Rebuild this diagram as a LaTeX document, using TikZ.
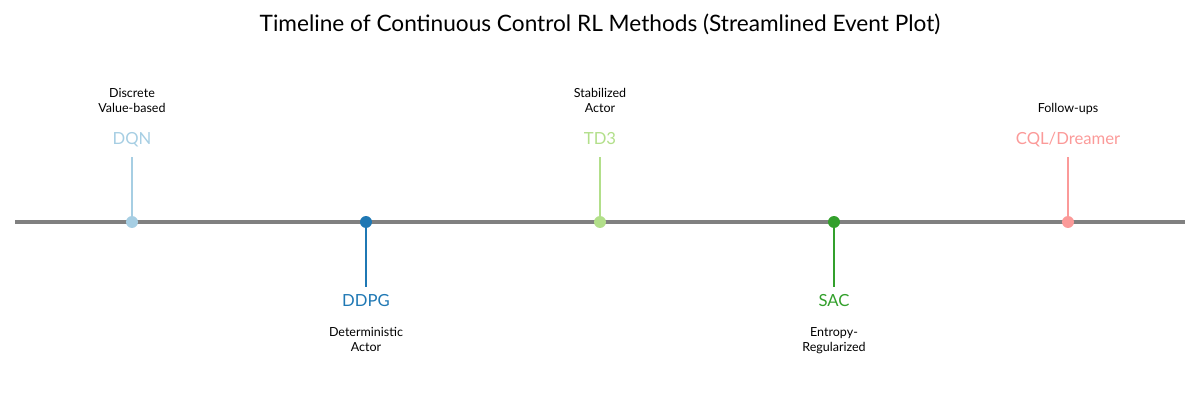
\documentclass[tikz,border=0pt]{standalone}
\usepackage{fontspec}
\setmainfont{Lato}
\usetikzlibrary{positioning}
\definecolor{axisgray}{HTML}{808080}
\definecolor{pairA}{HTML}{A6CEE3}
\definecolor{pairB}{HTML}{1F78B4}
\definecolor{pairC}{HTML}{B2DF8A}
\definecolor{pairD}{HTML}{33A02C}
\definecolor{pairE}{HTML}{FB9A99}
\tikzset{
  event/.style  = {circle, fill=#1, inner sep=0pt, minimum size=8.6pt},
  stem/.style   = {draw=#1, line width=1.5pt},
  method/.style = {font=\fontsize{12}{14}\selectfont, text=#1, inner sep=0pt},
  blurb/.style  = {font=\fontsize{9}{10.8}\selectfont, align=center, inner sep=0pt},
}

\begin{document}
\begin{tikzpicture}[x=0.72pt, y=0.72pt]
  \useasboundingbox (0,0) rectangle (1200,-400);

  \node[anchor=base, font=\fontsize{16.3}{19}\selectfont] (title) at (600,-32)
    {Timeline of Continuous Control RL Methods (Streamlined Event Plot)};

  % the time axis
  \coordinate (axL) at (15,-222);
  \coordinate (axR) at (1185,-222);
  \draw[draw=axisgray, line width=2.5pt] (axL) -- (axR);

  % events above the axis
  \foreach \n/\x/\c/\lbl/\txt in {dqn/132/pairA/{DQN}/{Discrete\\Value-based},
                                   td3/600/pairC/{TD3}/{Stabilized\\Actor},
                                   cql/1068/pairE/{CQL/Dreamer}/{Follow-ups}} {
    \coordinate (\n-top) at (\x,-157);
    \draw[stem=\c] (\x,-222) -- (\n-top);
    \node[event=\c] (\n) at (\x,-222) {};
    \node[method=\c, anchor=base] (\n-name) at (\x,-145) {\lbl};
    \node[blurb, anchor=base] (\n-note) at (\x,-113) {\txt};
  }

  % events below the axis
  \foreach \n/\x/\c/\lbl/\txt in {ddpg/366/pairB/{DDPG}/{Deterministic\\Actor},
                                   sac/834/pairD/{SAC}/{Entropy-\\Regularized}} {
    \coordinate (\n-bot) at (\x,-287);
    \draw[stem=\c] (\x,-222) -- (\n-bot);
    \node[event=\c] (\n) at (\x,-222) {};
    \node[method=\c, anchor=base] (\n-name) at (\x,-307) {\lbl};
    \node[blurb, anchor=north] (\n-note) at (\x,-327) {\txt};
  }
\end{tikzpicture}
\end{document}
